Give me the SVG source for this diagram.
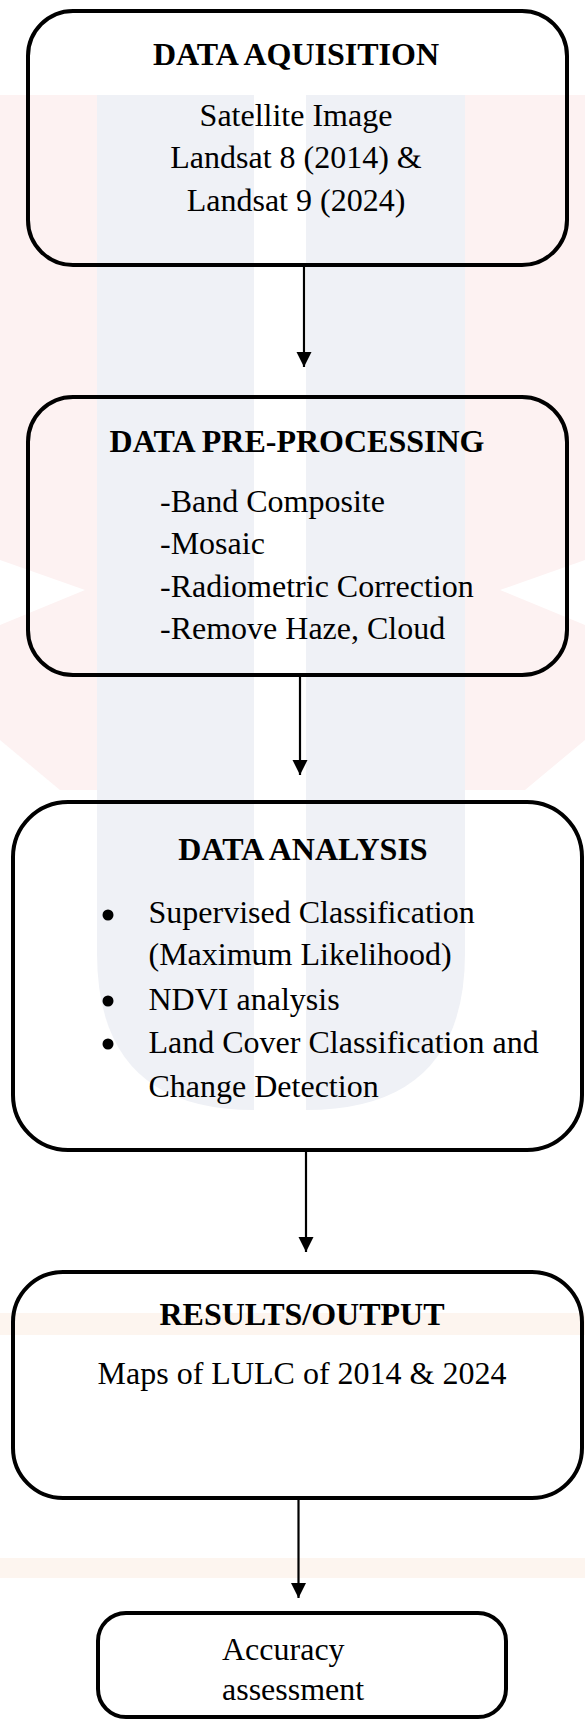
<svg xmlns="http://www.w3.org/2000/svg" width="585" height="1721" viewBox="0 0 585 1721">
<style>
.box{fill:none;stroke:#000;stroke-width:4}
.t{font-family:"Liberation Serif","Times New Roman",serif;font-size:32px;fill:#000}
.h{font-weight:bold}
.c{text-anchor:middle}
.conn{stroke:#000;stroke-width:2.2;fill:none}
.wm-b{fill:#eff1f6}
.wm-p{fill:#fdf2f2}
.wm-o{fill:#fdf5ef}
</style>
<defs>
<marker id="ah" markerUnits="userSpaceOnUse" markerWidth="16" markerHeight="16" refX="15" refY="7.5" orient="auto">
<path d="M0,0 L15,7.5 L0,15 z" fill="#000"/>
</marker>
</defs>
<rect width="585" height="1721" fill="#fff"/>
<g id="watermark">
<path class="wm-p" d="M0,95 L97,95 L97,790 L60,790 L0,740 L0,625 L85,590 L0,560 Z"/>
<path class="wm-p" d="M465,95 L585,95 L585,560 L500,590 L585,625 L585,740 L525,790 L465,790 Z"/>
<path class="wm-b" d="M97,95 H254 V1110 Q97,1110 97,953 Z"/>
<path class="wm-b" d="M306,95 H465 V953 Q465,1110 306,1110 Z"/>
<rect class="wm-o" x="0" y="1313" width="585" height="22"/>
<rect class="wm-o" x="0" y="1558" width="585" height="20"/>
</g>
<g id="connectors">
<line class="conn" x1="304" y1="267" x2="304" y2="367" marker-end="url(#ah)"/>
<line class="conn" x1="300" y1="677" x2="300" y2="775" marker-end="url(#ah)"/>
<line class="conn" x1="306" y1="1152" x2="306" y2="1252" marker-end="url(#ah)"/>
<line class="conn" x1="298.5" y1="1500" x2="298.5" y2="1598" marker-end="url(#ah)"/>
</g>
<g id="node-acquisition">
<rect class="box" x="28" y="11" width="539" height="254" rx="45"/>
<text class="t h c" x="296" y="65">DATA AQUISITION</text>
<text class="t c" x="296" y="126">Satellite Image</text>
<text class="t c" x="296" y="168">Landsat 8 (2014) &amp;</text>
<text class="t c" x="296" y="211">Landsat 9 (2024)</text>
</g>
<g id="node-preprocessing">
<rect class="box" x="28" y="397" width="539" height="278" rx="45"/>
<text class="t h c" x="297" y="452">DATA PRE-PROCESSING</text>
<text class="t" x="160" y="512">-Band Composite</text>
<text class="t" x="160" y="554">-Mosaic</text>
<text class="t" x="160" y="597">-Radiometric Correction</text>
<text class="t" x="160" y="639">-Remove Haze, Cloud</text>
</g>
<g id="node-analysis">
<rect class="box" x="13" y="802" width="569" height="348" rx="55"/>
<text class="t h c" x="303" y="860">DATA ANALYSIS</text>
<circle cx="108" cy="915" r="5.5"/>
<circle cx="108" cy="1001" r="5.5"/>
<circle cx="108" cy="1044" r="5.5"/>
<text class="t" x="148.5" y="923">Supervised Classification</text>
<text class="t" x="148.5" y="965">(Maximum Likelihood)</text>
<text class="t" x="148.5" y="1010">NDVI analysis</text>
<text class="t" x="148.5" y="1053">Land Cover Classification and</text>
<text class="t" x="148.5" y="1097">Change Detection</text>
</g>
<g id="node-results">
<rect class="box" x="13" y="1272" width="569" height="226" rx="50"/>
<text class="t h c" x="302" y="1325">RESULTS/OUTPUT</text>
<text class="t c" x="302" y="1384">Maps of LULC of 2014 &amp; 2024</text>
</g>
<g id="node-accuracy">
<rect class="box" x="98" y="1613" width="408" height="104" rx="28"/>
<text class="t" x="222" y="1660">Accuracy</text>
<text class="t" x="222" y="1700">assessment</text>
</g>
</svg>
